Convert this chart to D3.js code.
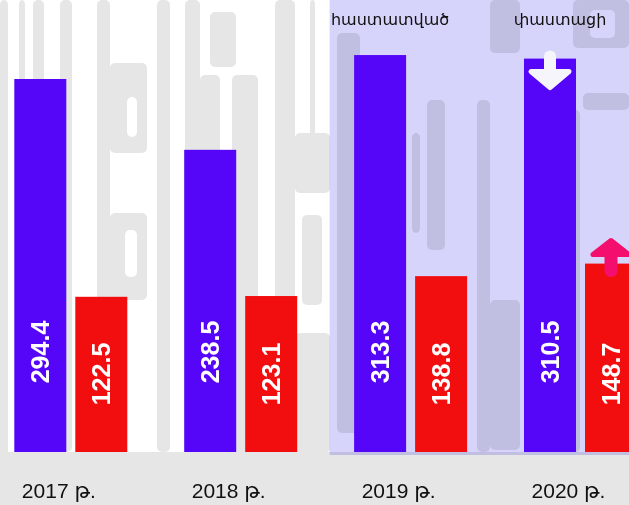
<!DOCTYPE html>
<html>
<head>
<meta charset="utf-8">
<script src="https://cdn.jsdelivr.net/npm/d3@7"></script>
<style>
  html, body { margin: 0; padding: 0; background: #ffffff; }
  svg { display: block; }
</style>
</head>
<body>
<svg id="chart" width="629" height="505"></svg>
<script>
// ---- data ----
const years = ["2017 թ.", "2018 թ.", "2019 թ.", "2020 թ."];
const seriesKeys = ["first", "second"];
const firstValues = [294.4, 238.5, 313.3, 310.5];
const secondValues = [122.5, 123.1, 138.8, 148.7];
const stageLabels = ["հաստատված", "փաստացի"];
const stageYears = ["2019 թ.", "2020 թ."];
const highlightYears = ["2019 թ.", "2020 թ."];

const rows = years.map((y, i) => ({ year: y, first: firstValues[i], second: secondValues[i] }));

// ---- layout ----
const W = 629, H = 505;
const baseY = 452;
const colors = { first: "#5506f9", second: "#f20d0f" };
const svg = d3.select("#chart");

const x0 = d3.scaleBand().domain(years).range([-14.15, 665.45]).padding(0);
const x1 = d3.scaleBand().domain(seriesKeys)
  .range([x0.bandwidth() / 2 - 56.5, x0.bandwidth() / 2 + 56.5])
  .paddingInner(9 / 61).paddingOuter(0);
const y = d3.scaleLinear().domain([0, 350]).range([baseY, baseY - 350 * 1.267]);

// ---- decorative background texture (grey letterforms on white) ----
const texGrey = "#e6e6e6";
const texture = svg.append("g");
texture.append("rect").attr("width", W).attr("height", H).attr("fill", "#ffffff");
const darkShapes = [
  [0,0,8,505],[19,0,6,452],[33,0,11,104],[60,0,12,452],[97,0,13,452],
  [110,63,37,90],[110,213,37,87],[157,0,13,452],[185,0,15,452],
  [200,75,20,380],[232,75,26,380],[210,12,26,55],[275,0,20,452],
  [295,133,35,60],[302,215,20,90],[310,0,5,140],[295,333,35,120],
  [337,33,23,400],[412,133,8,100],[427,100,18,150],[477,100,13,352],
  [490,0,30,53],[573,0,56,48],[583,93,46,17],[572,110,8,342],[490,300,30,150],
  [0,452,629,53]
];
const lightShapes = [[127,97,10,40],[125,230,12,47],[220,97,12,46],[590,10,25,28]];
texture.selectAll("rect.d").data(darkShapes).join("rect").attr("class", "d")
  .attr("x", d => d[0]).attr("y", d => d[1])
  .attr("width", d => d[2]).attr("height", d => d[3])
  .attr("rx", d => d[2] > 300 ? 0 : 5).attr("fill", texGrey);
texture.selectAll("rect.l").data(lightShapes).join("rect").attr("class", "l")
  .attr("x", d => d[0]).attr("y", d => d[1])
  .attr("width", d => d[2]).attr("height", d => d[3])
  .attr("rx", 5).attr("fill", "#ffffff");

// ---- highlighted region ----
const hl0 = x0(highlightYears[0]) + x0.bandwidth() / 2 - 81;
svg.append("rect")
  .attr("x", hl0).attr("y", 0)
  .attr("width", W - hl0).attr("height", baseY + 3)
  .attr("fill", "#d6d4fa")
  .style("mix-blend-mode", "multiply");

// ---- bars ----
const groups = svg.append("g").selectAll("g").data(rows).join("g")
  .attr("transform", d => `translate(${x0(d.year)},0)`);

groups.selectAll("rect").data(d => seriesKeys.map(k => ({ key: k, value: d[k] })))
  .join("rect")
  .attr("x", d => x1(d.key))
  .attr("y", d => y(d.value))
  .attr("width", x1.bandwidth())
  .attr("height", d => y(0) - y(d.value))
  .attr("fill", d => colors[d.key]);

// value labels
groups.selectAll("text.val").data(d => seriesKeys.map(k => ({ key: k, value: d[k] })))
  .join("text").attr("class", "val")
  .attr("transform", d => `translate(${x1(d.key) + x1.bandwidth() / 2},${baseY - (d.key === "first" ? 100 : 78)}) rotate(-90)`)
  .attr("text-anchor", "middle")
  .attr("dy", "0.36em")
  .attr("fill", "#ffffff")
  .style("font-family", "'Liberation Sans', Arial, sans-serif")
  .style("font-weight", "bold")
  .style("font-size", "25px")
  .text(d => d.value.toFixed(1));

// ---- year labels ----
svg.append("g").selectAll("text").data(years).join("text")
  .attr("x", d => x0(d) + x0.bandwidth() / 2 - 12)
  .attr("y", 498)
  .attr("text-anchor", "middle")
  .attr("fill", "#111111")
  .style("font-family", "'Liberation Sans', Arial, 'DejaVu Sans', sans-serif")
  .style("font-size", "21px")
  .text(d => d);

// ---- stage labels ----
svg.append("g").selectAll("text").data(stageLabels).join("text")
  .attr("x", (d, i) => x0(stageYears[i]) + x1("first") + x1.bandwidth() / 2 + 10)
  .attr("y", 25)
  .attr("text-anchor", "middle")
  .attr("fill", "#111111")
  .style("font-family", "'DejaVu Sans', sans-serif")
  .style("font-size", "16px")
  .text(d => d);

// ---- arrows on last year ----
const last = rows[rows.length - 1];
const cxA = x0(last.year) + x1("first") + x1.bandwidth() / 2;
const topA = y(last.first);
const downG = svg.append("g").attr("fill", "#f6f5fb").attr("stroke", "#f6f5fb");
downG.append("line").attr("x1", cxA).attr("x2", cxA).attr("y1", topA - 2).attr("y2", topA + 18)
  .attr("stroke-width", 12).attr("stroke-linecap", "round");
downG.append("path")
  .attr("d", `M${cxA - 19},${topA + 13} L${cxA + 19},${topA + 13} L${cxA},${topA + 29} Z`)
  .attr("stroke-width", 5).attr("stroke-linejoin", "round");

const cxB = x0(last.year) + x1("second") + x1.bandwidth() / 2;
const topB = y(last.second);
const upG = svg.append("g").attr("fill", "#f40f6e").attr("stroke", "#f40f6e");
upG.append("line").attr("x1", cxB).attr("x2", cxB).attr("y1", topB - 12).attr("y2", topB + 7)
  .attr("stroke-width", 13).attr("stroke-linecap", "round");
upG.append("path")
  .attr("d", `M${cxB - 18},${topB - 9} L${cxB + 18},${topB - 9} L${cxB},${topB - 23} Z`)
  .attr("stroke-width", 5).attr("stroke-linejoin", "round");
</script>
</body>
</html>
